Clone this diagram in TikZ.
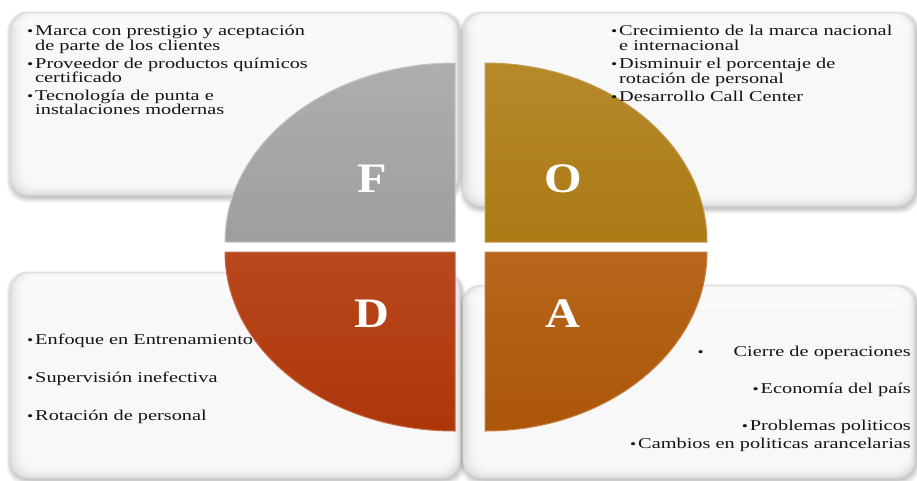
\documentclass[tikz,border=0pt]{standalone}
\usepackage{fontspec}
\setmainfont{Liberation Serif}
\newfontfamily\bodyfont{Liberation Serif}[FakeStretch=1.355]
\newfontfamily\letterfont{Liberation Serif}[FakeStretch=1.15]
\usetikzlibrary{calc}
\definecolor{fcol}{HTML}{A5A5A5}
\definecolor{ocol}{HTML}{B07E16}
\definecolor{dcol}{HTML}{B3380A}
\definecolor{acol}{HTML}{B15908}
\definecolor{txtcol}{HTML}{151515}
\newcommand\softbox[4]{%
  \foreach \k in {7,6,...,1}{%
    \fill[black,opacity=0.03,rounded corners=20]
      ({#1-\k*0.6+1},{#2-\k*0.4+2}) rectangle ({#3+\k*0.6+1},{#4+\k*0.8+2});}%
  \fill[gray!26,rounded corners=18] (#1,#2) rectangle (#3,#4);%
  \foreach \k/\c in {1/21,2/17,3/14,4/11,5/9,6/7,7/6,8/5.5}{%
    \fill[gray!\c,rounded corners=18]
      ({#1+\k*1.8},{#2+\k*0.6}) rectangle ({#3-\k*0.9},{#4-\k*1.2});}%
  \fill[white,opacity=.35,rounded corners=18] ({#1+3},{#2+1}) rectangle ({#3-3},{#2+25});%
}
\tikzset{
  bodytxt/.style={inner sep=0pt,font=\bodyfont\fontsize{15}{15}\selectfont,text=txtcol},
  linel/.style={bodytxt,anchor=base west},
  liner/.style={bodytxt,anchor=base east},
  bul/.style={bodytxt,anchor=base east,font=\bodyfont\fontsize{13}{13}\selectfont},
  letter/.style={inner sep=0pt,anchor=base,text=white,font=\letterfont\bfseries\fontsize{42}{42}\selectfont},
  quadedge/.style={line width=1pt},
}
\begin{document}
\begin{tikzpicture}[x=1pt,y=-1pt]
\useasboundingbox (0,0) rectangle (917,480);
\fill[white] (0,0) rectangle (917,480);
% boxes
\softbox{10}{12}{458}{195}
\softbox{463}{12}{915}{206}
\softbox{10}{272}{460}{478}
\softbox{463}{285}{915}{478}
% quadrants
\shade[top color=fcol!90!white,bottom color=fcol!96!black]
  (455,242) -- (455,63) arc[start angle=270,end angle=180,x radius=230,y radius=179] -- cycle;
\draw[quadedge,fcol!65!white] (455,242) -- (455,63) arc[start angle=270,end angle=180,x radius=230,y radius=179] -- cycle;
\shade[top color=ocol!92!white,bottom color=ocol!97!black]
  (485,242) -- (485,63) arc[start angle=270,end angle=360,x radius=222,y radius=179] -- cycle;
\draw[quadedge,ocol!75!white] (485,242) -- (485,63) arc[start angle=270,end angle=360,x radius=222,y radius=179] -- cycle;
\shade[top color=dcol!92!white,bottom color=dcol!97!black]
  (455,252) -- (225,252) arc[start angle=180,end angle=90,x radius=230,y radius=179] -- cycle;
\draw[quadedge,dcol!75!white] (455,252) -- (225,252) arc[start angle=180,end angle=90,x radius=230,y radius=179] -- cycle;
\shade[top color=acol!92!white,bottom color=acol!97!black]
  (485,252) -- (707,252) arc[start angle=0,end angle=90,x radius=222,y radius=179] -- cycle;
\draw[quadedge,acol!75!white] (485,252) -- (707,252) arc[start angle=0,end angle=90,x radius=222,y radius=179] -- cycle;
% letters
\node[letter] (F) at (372,192) {F};
\node[letter] (O) at (563,192) {O};
\node[letter] (D) at (372,327) {D};
\node[letter] (A) at (563,327) {A};
% F text
\node[linel] (f1) at (35,35.5) {Marca con prestigio y aceptación};
\node[linel] (f2) at (35,50) {de parte de los clientes};
\node[linel] (f3) at (35,68) {Proveedor de productos químicos};
\node[linel] (f4) at (35,82) {certificado};
\node[linel] (f5) at (35,100) {Tecnología de punta e};
\node[linel] (f6) at (35,114) {instalaciones modernas};
\node[bul] at ([xshift=-1.5pt]f1.base west) {•};
\node[bul] at ([xshift=-1.5pt]f3.base west) {•};
\node[bul] at ([xshift=-1.5pt]f5.base west) {•};
% O text
\node[linel] (o1) at (619,35) {Crecimiento de la marca nacional};
\node[linel] (o2) at (619,50) {e internacional};
\node[linel] (o3) at (619,68) {Disminuir el porcentaje de};
\node[linel] (o4) at (619,83) {rotación de personal};
\node[linel] (o5) at (619,101) {Desarrollo Call Center};
\node[bul] at ([xshift=-1.5pt]o1.base west) {•};
\node[bul] at ([xshift=-1.5pt]o3.base west) {•};
\node[bul] at ([xshift=-1.5pt]o5.base west) {•};
% D text
\node[linel] (d1) at (35,344) {Enfoque en Entrenamiento};
\node[linel] (d2) at (35,382) {Supervisión inefectiva};
\node[linel] (d3) at (35,420) {Rotación de personal};
\node[bul] at ([xshift=-1.5pt]d1.base west) {•};
\node[bul] at ([xshift=-1.5pt]d2.base west) {•};
\node[bul] at ([xshift=-1.5pt]d3.base west) {•};
% A text
\node[liner] (a1) at (911,356) {Cierre de operaciones};
\node[liner] (a2) at (911,393) {Economía del país};
\node[liner] (a3) at (911,430) {Problemas politicos};
\node[liner] (a4) at (911,448) {Cambios en politicas arancelarias};
\node[bul] at (704,356) {•};
\node[bul] at ([xshift=-1.5pt]a2.base west) {•};
\node[bul] at ([xshift=-1.5pt]a3.base west) {•};
\node[bul] at ([xshift=-1.5pt]a4.base west) {•};
\end{tikzpicture}
\end{document}
